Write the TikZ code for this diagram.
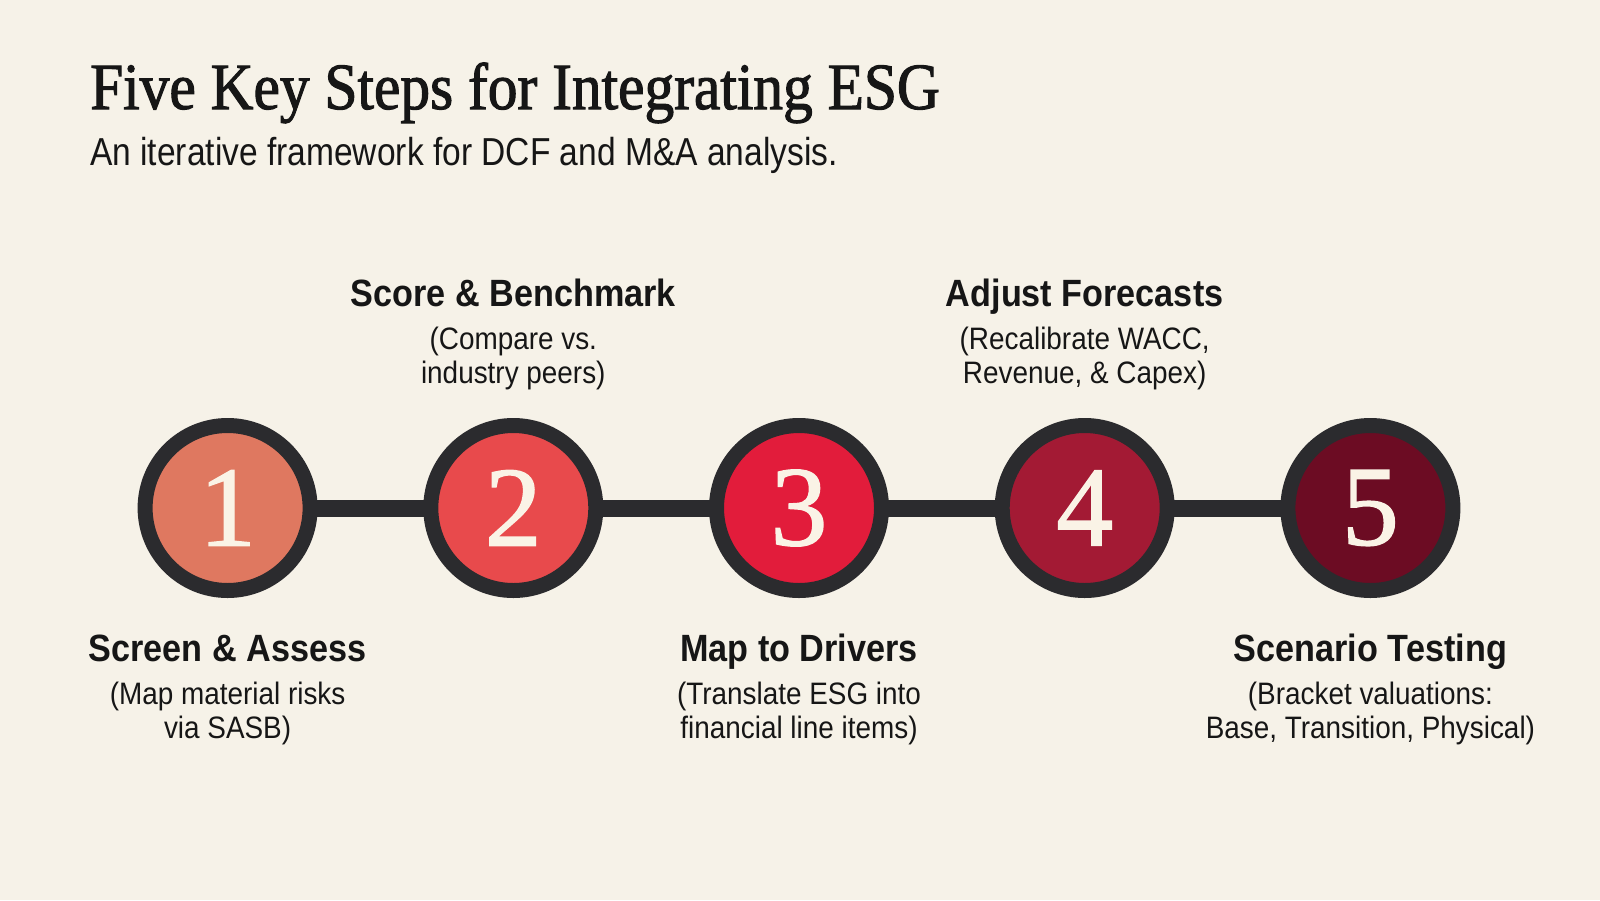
\documentclass[tikz,border=0pt]{standalone}
\usepackage{fontspec}
\setmainfont{Liberation Sans}
\newfontfamily\titlefont[FakeStretch=0.9,FakeBold=1.6]{Liberation Serif}
\newfontfamily\digitfont[FakeBold=1.2]{Liberation Serif}
\newfontfamily\subfont[FakeStretch=0.86]{Liberation Sans}
\newfontfamily\labfont[FakeStretch=0.9]{Liberation Sans}
\definecolor{bgc}{HTML}{F6F2E8}
\definecolor{ink}{HTML}{2B2B2E}
\definecolor{txt}{HTML}{161616}
\definecolor{cream}{HTML}{FAF3E6}
\definecolor{cA}{HTML}{DF7860}
\definecolor{cB}{HTML}{E84A4C}
\definecolor{cC}{HTML}{E21C3B}
\definecolor{cD}{HTML}{A31A34}
\definecolor{cE}{HTML}{6C0C23}
\tikzset{
  stepcircle/.style={circle, draw=ink, line width=15pt, minimum size=165pt, inner sep=0pt,
    font=\digitfont\fontsize{114}{114}\selectfont, text=cream},
  bar/.style={draw=ink, line width=17pt},
  headtxt/.style={anchor=base, font=\labfont\bfseries\fontsize{38}{40}\selectfont, text=txt, inner sep=0pt},
  desctxt/.style={anchor=base, font=\labfont\fontsize{31}{34}\selectfont, text=txt, inner sep=0pt, align=center},
}
\begin{document}
\begin{tikzpicture}[x=1pt,y=-1pt]
\fill[bgc] (0,0) rectangle (1600,900);
\useasboundingbox (0,0) rectangle (1600,900);
\node[anchor=base west, inner sep=0pt, text=txt, font=\titlefont\fontsize{66}{70}\selectfont] (title) at (90,109) {Five Key Steps for Integrating ESG};
\node[anchor=base west, inner sep=0pt, text=txt, font=\subfont\fontsize{39}{42}\selectfont] (subtitle) at (90,165) {An iterative framework for DCF and M\&A analysis.};
% connectors
\coordinate (p1) at (227.6,508);
\coordinate (p2) at (513.3,508);
\coordinate (p3) at (799,508);
\coordinate (p4) at (1084.7,508);
\coordinate (p5) at (1370.4,508);
\draw[bar] (p1) -- (p2) -- (p3) -- (p4) -- (p5);
\node[stepcircle, fill=cA] (s1) at (p1) {1};
\node[stepcircle, fill=cB] (s2) at (p2) {2};
\node[stepcircle, fill=cC] (s3) at (p3) {3};
\node[stepcircle, fill=cD] (s4) at (p4) {4};
\node[stepcircle, fill=cE] (s5) at (p5) {5};
% top labels
\node[headtxt] (h2) at (513.3,306) {Score \& Benchmark};
\node[desctxt] (d2a) at (513.3,349) {(Compare vs.};
\node[desctxt] (d2b) at (513.3,383) {industry peers)};
\node[headtxt] (h4) at (1084.7,306) {Adjust Forecasts};
\node[desctxt] (d4a) at (1084.7,349) {(Recalibrate WACC,};
\node[desctxt] (d4b) at (1084.7,383) {Revenue, \& Capex)};
% bottom labels
\node[headtxt] (h1) at (227.6,661) {Screen \& Assess};
\node[desctxt] (d1a) at (227.6,704) {(Map material risks};
\node[desctxt] (d1b) at (227.6,738) {via SASB)};
\node[headtxt] (h3) at (799,661) {Map to Drivers};
\node[desctxt] (d3a) at (799,704) {(Translate ESG into};
\node[desctxt] (d3b) at (799,738) {financial line items)};
\node[headtxt] (h5) at (1370.4,661) {Scenario Testing};
\node[desctxt] (d5a) at (1370.4,704) {(Bracket valuations:};
\node[desctxt] (d5b) at (1370.4,738) {Base, Transition, Physical)};
\end{tikzpicture}
\end{document}
